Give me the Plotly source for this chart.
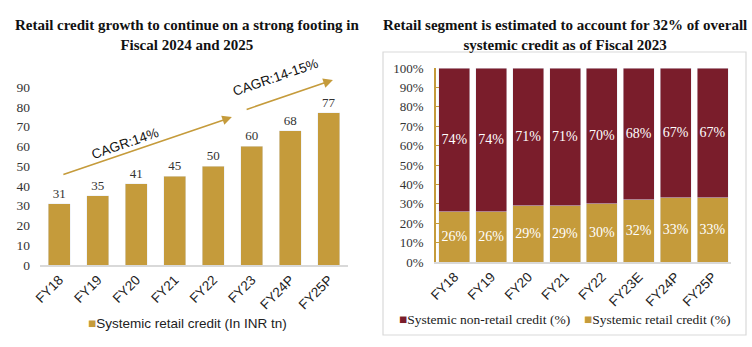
import plotly.graph_objects as go

# Left panel: systemic retail credit (INR tn)
years_left = ["FY18", "FY19", "FY20", "FY21", "FY22", "FY23", "FY24P", "FY25P"]
retail_credit = [31, 35, 41, 45, 50, 60, 68, 77]
left_ticks = [0, 10, 20, 30, 40, 50, 60, 70, 80, 90]

# Right panel: share of systemic credit (%)
years_right = ["FY18", "FY19", "FY20", "FY21", "FY22", "FY23E", "FY24P", "FY25P"]
retail_share = [26, 26, 29, 29, 30, 32, 33, 33]
non_retail_share = [74, 74, 71, 71, 70, 68, 67, 67]
right_ticks = [0, 10, 20, 30, 40, 50, 60, 70, 80, 90, 100]

GOLD = "#C59B3B"
MAROON = "#7A1D2B"
SERIF = "Liberation Serif"
SANS = "Liberation Sans"
W, H = 752, 347


def px_x(p):
    return p / W


def px_y(p):
    return 1 - p / H


fig = go.Figure()

fig.add_trace(go.Bar(
    x=years_left, y=retail_credit, name="Systemic retail credit (In INR tn)",
    marker_color=GOLD, text=retail_credit, textposition="outside",
    textfont=dict(family=SERIF, size=13, color="#333333"), cliponaxis=False,
    xaxis="x", yaxis="y",
))

fig.add_trace(go.Bar(
    x=years_right, y=retail_share, name="Systemic retail credit (%)",
    marker_color=GOLD, text=[f"{v}%" for v in retail_share],
    textposition="inside", insidetextanchor="middle", textangle=0,
    constraintext="none",
    textfont=dict(family=SERIF, size=14, color="white"),
    xaxis="x2", yaxis="y2", width=0.84,
))
fig.add_trace(go.Bar(
    x=years_right, y=non_retail_share, name="Systemic non-retail credit (%)",
    marker_color=MAROON, text=[f"{v}%" for v in non_retail_share],
    textposition="inside", insidetextanchor="middle", textangle=0,
    constraintext="none",
    textfont=dict(family=SERIF, size=14, color="white"),
    xaxis="x2", yaxis="y2", width=0.84,
))


def arrow(x0, y0, x1, y1):
    return dict(x=x1, y=y1, ax=x0, ay=y0, xref="x domain", yref="y domain",
                axref="x domain", ayref="y domain", text="", showarrow=True,
                arrowhead=2, arrowsize=1.2, arrowwidth=1.6, arrowcolor=GOLD)


def cagr_label(text, x, y):
    return dict(x=x, y=y, xref="x domain", yref="y domain", text=text,
                xanchor="center", yanchor="middle", showarrow=False, textangle=-19,
                font=dict(family=SANS, size=13.5, color="#111111"))


def swatch(color, label, font_family, x, y):
    return dict(text=f"<span style='color:{color}'>■</span>{label}",
                x=x, y=y, xref="paper", yref="paper", xanchor="left", yanchor="middle",
                showarrow=False, font=dict(family=font_family, size=13.5, color="#222222"))


annotations = [
    dict(text="<b>Retail credit growth to continue on a strong footing in<br>Fiscal 2024 and 2025</b>",
         x=px_x(187), y=px_y(35), xref="paper", yref="paper", xanchor="center",
         yanchor="middle", showarrow=False,
         font=dict(family=SERIF, size=15, color="#111111"), align="center"),
    dict(text="<b>Retail segment is estimated to account for 32% of overall<br>systemic credit as of Fiscal 2023</b>",
         x=px_x(565), y=px_y(35), xref="paper", yref="paper", xanchor="center",
         yanchor="middle", showarrow=False,
         font=dict(family=SERIF, size=15, color="#111111"), align="center"),
    # growth arrows and CAGR labels
    arrow(0.071, 0.506, 0.623, 0.831),
    arrow(0.666, 0.871, 0.951, 1.039),
    cagr_label("CAGR:14%", 0.276, 0.685),
    cagr_label("CAGR:14-15%", 0.763, 1.051),
    # legends
    swatch(GOLD, "Systemic retail credit (In INR tn)", SANS, px_x(86), px_y(323)),
    swatch(MAROON, "Systemic non-retail credit (%)", SERIF, px_x(397), px_y(319)),
    swatch(GOLD, "Systemic retail credit (%)", SERIF, px_x(582), px_y(319)),
]

shapes = [
    dict(type="rect", xref="paper", yref="paper",
         x0=px_x(383), x1=px_x(746), y0=px_y(335), y1=px_y(52),
         line=dict(color="#D9D9D9", width=1.2), fillcolor="rgba(0,0,0,0)", layer="below"),
]

fig.update_layout(
    width=W, height=H, margin=dict(l=0, r=0, t=0, b=0, autoexpand=False),
    paper_bgcolor="white", plot_bgcolor="white",
    barmode="stack", showlegend=False,
    annotations=annotations, shapes=shapes,
    xaxis=dict(domain=[px_x(40), px_x(348)], anchor="y", showline=True, automargin=False,
               linecolor="#D9D9D9", linewidth=1.5, tickangle=-45, ticks="",
               tickfont=dict(family=SANS, size=13.5, color="#222222"), showgrid=False),
    yaxis=dict(domain=[px_y(265), px_y(87)], anchor="x", range=[0, 90], automargin=False,
               tickvals=left_ticks, showgrid=False, zeroline=False, showline=False,
               ticklabelstandoff=9,
               tickfont=dict(family=SERIF, size=13.5, color="#333333")),
    xaxis2=dict(domain=[px_x(436), px_x(731)], anchor="y2", showline=True, automargin=False,
                linecolor="#D9D9D9", linewidth=1.5, tickangle=-45, ticks="",
                tickfont=dict(family=SANS, size=13.5, color="#222222"), showgrid=False),
    yaxis2=dict(domain=[px_y(262), px_y(68)], anchor="x2", range=[0, 100], automargin=False,
                tickvals=right_ticks, ticktext=[f"{v}%" for v in right_ticks],
                showgrid=False, zeroline=False,
                showline=True, linecolor=GOLD, linewidth=1.5,
                ticks="inside", ticklen=3, tickcolor=GOLD, ticklabelstandoff=8,
                tickfont=dict(family=SERIF, size=13, color="#333333")),
    bargap=0.44,
)

fig.write_html("out.html")
